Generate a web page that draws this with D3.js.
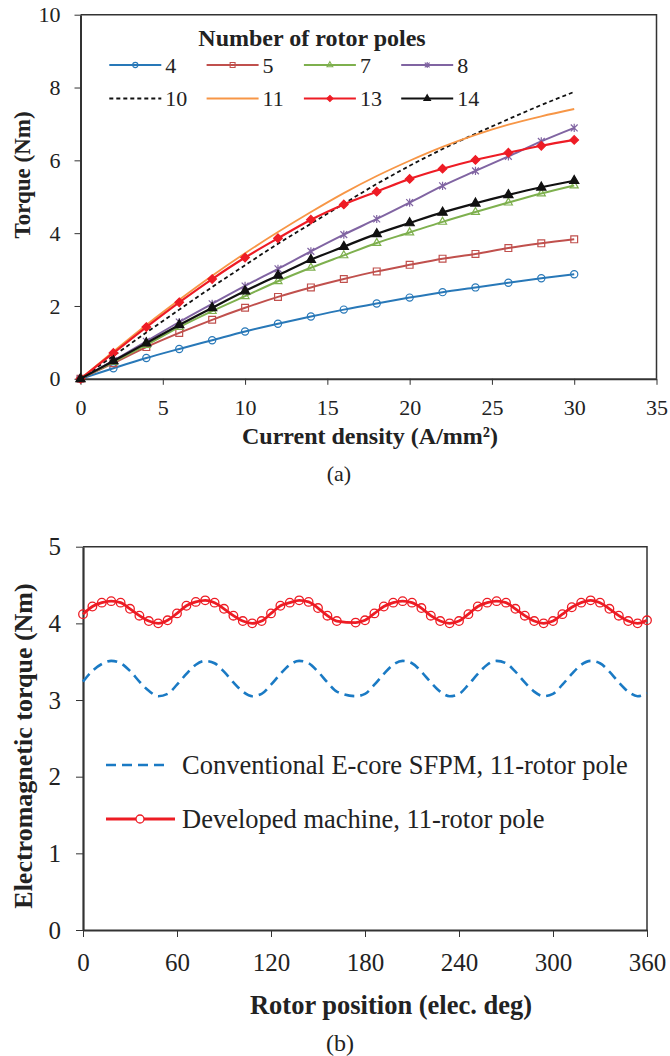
<!DOCTYPE html>
<html>
<head>
<meta charset="utf-8">
<title>Torque charts</title>
<style>
  body { margin: 0; background: #fff; }
  text { font-family: "Liberation Serif", "Times New Roman", serif; fill: #222; }
  .axis path, .axis line { stroke: #333; }
</style>
</head>
<body>
<svg></svg>
<script src="https://d3js.org/d3.v7.min.js"></script>
<script>
// ---- data ----
const currentDensity = [0, 2, 4, 6, 8, 10, 12, 14, 16, 18, 20, 22, 24, 26, 28, 30];
const torque4  = [0, 0.29, 0.57, 0.82, 1.06, 1.30, 1.51, 1.71, 1.90, 2.07, 2.23, 2.38, 2.51, 2.64, 2.76, 2.87];
const torque5  = [0, 0.43, 0.87, 1.26, 1.62, 1.95, 2.25, 2.51, 2.74, 2.95, 3.13, 3.30, 3.43, 3.59, 3.72, 3.83];
const torque7  = [0, 0.46, 0.93, 1.42, 1.86, 2.27, 2.68, 3.05, 3.39, 3.73, 4.02, 4.31, 4.58, 4.84, 5.09, 5.31];
const torque8  = [0, 0.50, 1.03, 1.56, 2.06, 2.55, 3.02, 3.50, 3.96, 4.39, 4.84, 5.30, 5.71, 6.11, 6.52, 6.89];
const torque10 = [0, 0.63, 1.27, 1.90, 2.52, 3.12, 3.71, 4.26, 4.81, 5.35, 5.85, 6.31, 6.73, 7.13, 7.52, 7.88];
const torque11 = [0, 0.75, 1.48, 2.17, 2.83, 3.45, 4.03, 4.58, 5.10, 5.57, 5.99, 6.37, 6.70, 6.98, 7.21, 7.41];
const torque13 = [0, 0.71, 1.42, 2.10, 2.74, 3.33, 3.86, 4.37, 4.79, 5.14, 5.49, 5.77, 6.01, 6.21, 6.40, 6.56];
const torque14 = [0, 0.49, 0.98, 1.48, 1.95, 2.41, 2.84, 3.27, 3.63, 3.98, 4.28, 4.57, 4.82, 5.05, 5.26, 5.44];
const poleLabels = ["4", "5", "7", "8", "10", "11", "13", "14"];
const xTicksA = [0, 5, 10, 15, 20, 25, 30, 35];
const yTicksA = [0, 2, 4, 6, 8, 10];

const rotorPosition = [0, 6, 12, 18, 24, 30, 36, 42, 48, 54, 60, 66, 72, 78, 84, 90, 96, 102, 108, 114,
  120, 126, 132, 138, 144, 150, 156, 162, 174, 180, 186, 192, 198, 204, 210, 216, 222, 228, 234, 240,
  246, 252, 258, 264, 270, 276, 282, 288, 294, 300, 306, 312, 318, 324, 330, 336, 342, 348, 354, 360];
const conventional = [3.24, 3.38, 3.47, 3.51, 3.48, 3.38, 3.24, 3.12, 3.05, 3.08, 3.20, 3.34, 3.46, 3.51, 3.48, 3.37, 3.23, 3.11, 3.05, 3.08,
  3.20, 3.34, 3.46, 3.51, 3.48, 3.37, 3.23, 3.11, 3.05, 3.08, 3.20, 3.34, 3.46, 3.51, 3.48, 3.37, 3.23, 3.11, 3.05, 3.08,
  3.20, 3.34, 3.46, 3.51, 3.48, 3.37, 3.23, 3.11, 3.05, 3.08, 3.20, 3.34, 3.46, 3.51, 3.48, 3.37, 3.23, 3.11, 3.05, 3.09];
const developed = [4.12, 4.22, 4.27, 4.29, 4.27, 4.19, 4.10, 4.03, 4.00, 4.04, 4.13, 4.23, 4.28, 4.30, 4.27, 4.19, 4.10, 4.03, 4.00, 4.03,
  4.13, 4.23, 4.27, 4.30, 4.28, 4.20, 4.10, 4.03, 4.01, 4.04, 4.13, 4.22, 4.27, 4.29, 4.27, 4.20, 4.10, 4.03, 4.00, 4.03,
  4.12, 4.22, 4.27, 4.29, 4.27, 4.19, 4.10, 4.03, 4.00, 4.03, 4.12, 4.21, 4.27, 4.30, 4.27, 4.19, 4.10, 4.03, 4.00, 4.04];
const xTicksB = [0, 60, 120, 180, 240, 300, 360];
const yTicksB = [0, 1, 2, 3, 4, 5];

// ---- setup ----
const width = 670;
const height = 1056;
const svg = d3.select('svg').attr('width', width).attr('height', height);

const symbolPath = (type, s) => {
  if (type === 'circle') return d3.symbol().type(d3.symbolCircle).size(Math.PI * s * s)();
  if (type === 'square') return `M${-s},${-s}H${s}V${s}H${-s}Z`;
  if (type === 'triangle') return `M0,${-s * 1.15}L${s},${s * 0.6}L${-s},${s * 0.6}Z`;
  if (type === 'diamond') return `M0,${-s}L${s},0L0,${s}L${-s},0Z`;
  if (type === 'star') return `M${-s},${-s}L${s},${s}M${-s},${s}L${s},${-s}M0,${-s * 1.2}L0,${s * 1.2}`;
  return null;
};

// ================= chart (a) =================
const xA = d3.scaleLinear().domain([0, 35]).range([80.5, 656.5]);
const yA = d3.scaleLinear().domain([0, 10]).range([378.8, 14.7]);

const styles = {
  "4":  { values: torque4,  color: '#2878B8', marker: 'circle',   size: 3.6, fill: 'none', width: 2 },
  "5":  { values: torque5,  color: '#C0504D', marker: 'square',   size: 3.4, fill: 'none', width: 2 },
  "7":  { values: torque7,  color: '#7EB04E', marker: 'triangle', size: 4,   fill: 'none', width: 2 },
  "8":  { values: torque8,  color: '#8064A2', marker: 'star',     size: 3.4, fill: 'none', width: 2 },
  "10": { values: torque10, color: '#111',    marker: null, dash: '4,3',    width: 1.8 },
  "11": { values: torque11, color: '#F79646', marker: null,                 width: 1.8 },
  "13": { values: torque13, color: '#EE1C25', marker: 'diamond',  size: 4.3, fill: '#EE1C25', width: 2.2 },
  "14": { values: torque14, color: '#111',    marker: 'triangle', size: 4.6, fill: '#111', width: 2.2 }
};

const gA = svg.append('g');

gA.append('g').attr('class', 'axis')
  .attr('transform', `translate(0,${yA(0)})`)
  .call(d3.axisBottom(xA).tickValues(xTicksA).tickSize(6).tickSizeOuter(0).tickPadding(15).tickFormat(d3.format('d')))
  .call(g => g.selectAll('text').style('font-size', '22px').attr('fill', '#222'))
  .call(g => g.select('.domain').attr('stroke-width', 2));

gA.append('g').attr('class', 'axis')
  .attr('transform', `translate(${xA(0)},0)`)
  .call(d3.axisLeft(yA).tickValues(yTicksA).tickSize(6).tickSizeOuter(0).tickPadding(14).tickFormat(d3.format('d')))
  .call(g => g.selectAll('text').style('font-size', '22px').attr('fill', '#222'))
  .call(g => g.select('.domain').attr('stroke-width', 2));

// top and right border
gA.append('path')
  .attr('d', `M${xA(0)},${yA(10)}H${xA(35)}V${yA(0)}`)
  .attr('fill', 'none').attr('stroke', '#333').attr('stroke-width', 1.5);

const lineA = d3.line().curve(d3.curveMonotoneX);

poleLabels.forEach(p => {
  const st = styles[p];
  const pts = currentDensity.map((c, i) => [xA(c), yA(st.values[i])]);
  gA.append('path')
    .attr('d', lineA(pts))
    .attr('fill', 'none')
    .attr('stroke', st.color)
    .attr('stroke-width', st.width)
    .attr('stroke-dasharray', st.dash || null);
  if (st.marker) {
    gA.selectAll(null).data(pts).enter().append('path')
      .attr('transform', d => `translate(${d[0]},${d[1]})`)
      .attr('d', symbolPath(st.marker, st.size))
      .attr('fill', st.fill)
      .attr('stroke', st.color)
      .attr('stroke-width', 1.2);
  }
});

// legend (a)
gA.append('text')
  .attr('x', 312).attr('y', 46)
  .attr('text-anchor', 'middle')
  .style('font-size', '24px').style('font-weight', 'bold')
  .text('Number of rotor poles');

poleLabels.forEach((p, i) => {
  const st = styles[p];
  const lx = 109.3 + (i % 4) * 97.3;
  const ly = i < 4 ? 65 : 98.5;
  gA.append('line')
    .attr('x1', lx).attr('x2', lx + 52).attr('y1', ly).attr('y2', ly)
    .attr('stroke', st.color).attr('stroke-width', st.width)
    .attr('stroke-dasharray', st.dash || null);
  if (st.marker) {
    gA.append('path')
      .attr('transform', `translate(${lx + 26},${ly})`)
      .attr('d', symbolPath(st.marker, st.size * 0.72))
      .attr('fill', st.fill).attr('stroke', st.color).attr('stroke-width', 1.1);
  }
  gA.append('text')
    .attr('x', lx + 56).attr('y', ly + 7.5)
    .style('font-size', '22px')
    .text(p);
});

gA.append('text')
  .attr('transform', `translate(30,175) rotate(-90)`)
  .attr('text-anchor', 'middle')
  .style('font-size', '23px').style('font-weight', 'bold')
  .text('Torque (Nm)');

gA.append('text')
  .attr('x', 370).attr('y', 444)
  .attr('text-anchor', 'middle')
  .style('font-size', '24px').style('font-weight', 'bold')
  .text('Current density (A/mm²)');

gA.append('text')
  .attr('x', 339).attr('y', 481)
  .attr('text-anchor', 'middle')
  .style('font-size', '22px')
  .text('(a)');

// ================= chart (b) =================
const xB = d3.scaleLinear().domain([0, 360]).range([83, 647]);
const yB = d3.scaleLinear().domain([0, 5]).range([930, 546.7]);
const gB = svg.append('g');

gB.append('g').attr('class', 'axis')
  .attr('transform', `translate(0,${yB(0)})`)
  .call(d3.axisBottom(xB).tickValues(xTicksB).tickSize(7).tickSizeOuter(0).tickPadding(16).tickFormat(d3.format('d')))
  .call(g => g.selectAll('text').style('font-size', '25px').attr('fill', '#222'))
  .call(g => g.select('.domain').attr('stroke-width', 2.2));

gB.append('g').attr('class', 'axis')
  .attr('transform', `translate(${xB(0)},0)`)
  .call(d3.axisLeft(yB).tickValues(yTicksB).tickSize(7).tickSizeOuter(0).tickPadding(15).tickFormat(d3.format('d')))
  .call(g => g.selectAll('text').style('font-size', '25px').attr('fill', '#222'))
  .call(g => g.select('.domain').attr('stroke-width', 2.2));

gB.append('path')
  .attr('d', `M${xB(0)},${yB(5)}H${xB(360)}V${yB(0)}`)
  .attr('fill', 'none').attr('stroke', '#333').attr('stroke-width', 1.5);

const lineB = d3.line().curve(d3.curveMonotoneX);
const bluePts = rotorPosition.map((r, i) => [xB(r), yB(conventional[i])]);
const redPts = rotorPosition.map((r, i) => [xB(r), yB(developed[i])]);

gB.append('path')
  .attr('d', lineB(bluePts))
  .attr('fill', 'none').attr('stroke', '#1A7AC4').attr('stroke-width', 2.6)
  .attr('stroke-dasharray', '10,6');

gB.append('path')
  .attr('d', lineB(redPts))
  .attr('fill', 'none').attr('stroke', '#ED1C24').attr('stroke-width', 2.8);

gB.selectAll('circle.pt').data(redPts).enter().append('circle')
  .attr('class', 'pt')
  .attr('cx', d => d[0]).attr('cy', d => d[1]).attr('r', 4.3)
  .attr('fill', 'none').attr('stroke', '#ED1C24').attr('stroke-width', 1.3);

// legend (b)
gB.append('line')
  .attr('x1', 106).attr('x2', 170).attr('y1', 765).attr('y2', 765)
  .attr('stroke', '#1A7AC4').attr('stroke-width', 2.6).attr('stroke-dasharray', '10,6');
gB.append('text').attr('x', 182).attr('y', 774).style('font-size', '26.5px')
  .text('Conventional E-core SFPM, 11-rotor pole');

gB.append('line')
  .attr('x1', 106).attr('x2', 175).attr('y1', 819).attr('y2', 819)
  .attr('stroke', '#ED1C24').attr('stroke-width', 2.8);
gB.append('circle').attr('cx', 140).attr('cy', 819).attr('r', 4)
  .attr('fill', '#fff').attr('stroke', '#ED1C24').attr('stroke-width', 1.3);
gB.append('text').attr('x', 182).attr('y', 828).style('font-size', '26.5px')
  .text('Developed machine, 11-rotor pole');

gB.append('text')
  .attr('transform', `translate(32,746) rotate(-90)`)
  .attr('text-anchor', 'middle')
  .style('font-size', '26px').style('font-weight', 'bold')
  .text('Electromagnetic torque (Nm)');

gB.append('text')
  .attr('x', 391).attr('y', 1014)
  .attr('text-anchor', 'middle')
  .style('font-size', '26.5px').style('font-weight', 'bold')
  .text('Rotor position (elec. deg)');

gB.append('text')
  .attr('x', 340).attr('y', 1051)
  .attr('text-anchor', 'middle')
  .style('font-size', '24px')
  .text('(b)');
</script>
</body>
</html>
